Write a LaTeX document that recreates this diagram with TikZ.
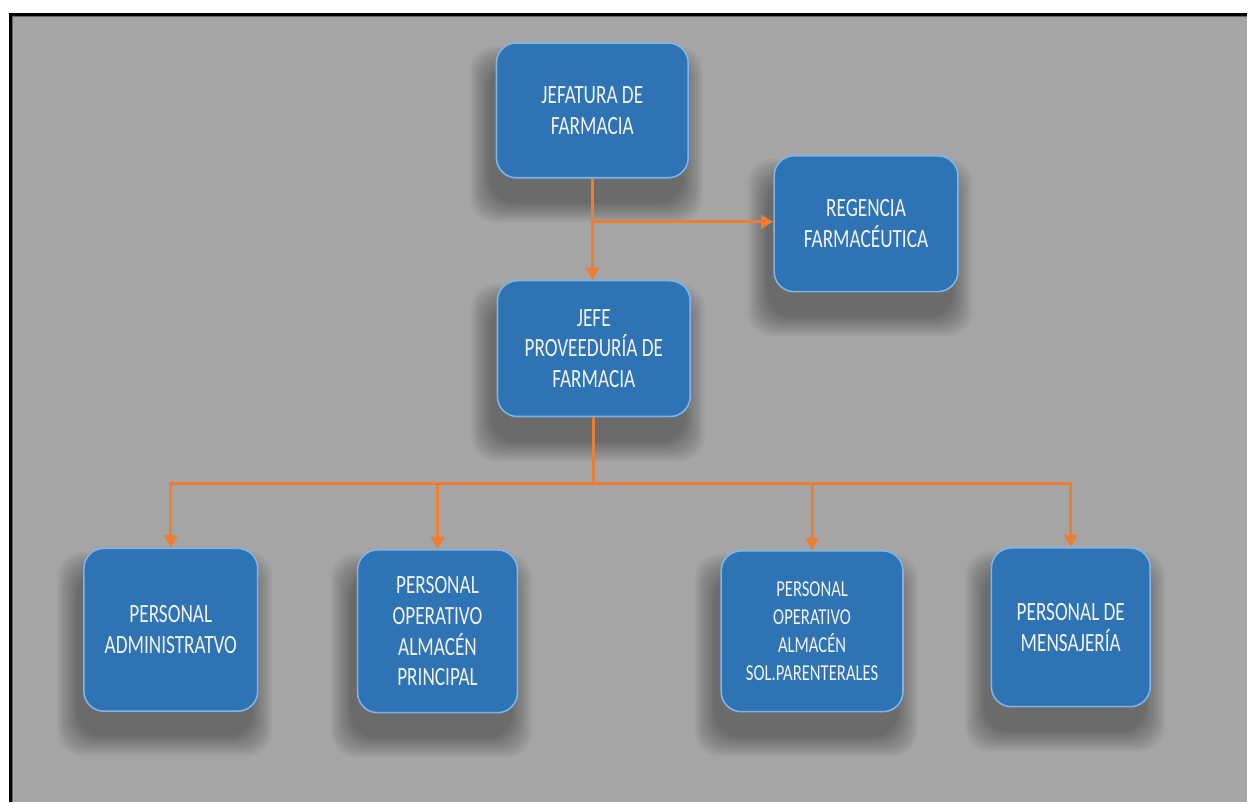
\documentclass[tikz,border=0pt]{standalone}
\usepackage{fontspec}
\newfontfamily\boxfont[FakeStretch=0.73]{Carlito}
\usetikzlibrary{arrows.meta,backgrounds,calc}
\definecolor{panelgray}{HTML}{A5A5A5}
\definecolor{boxblue}{HTML}{2E74B5}
\definecolor{boxedge}{HTML}{7FB4E6}
\definecolor{linkorange}{HTML}{ED7D31}
\definecolor{boxtext}{HTML}{F2F2F2}
\tikzset{
  orgbox/.style={
    rectangle, rounded corners=0.4cm, fill=boxblue, draw=boxedge, line width=0.9pt,
    text=boxtext, align=center, inner sep=2pt,
    font=\boxfont\fontsize{15pt}{17.5pt}\selectfont
  },
  smalltext/.style={font=\boxfont\fontsize{13pt}{16pt}\selectfont},
  shadowlayer/.style={fill=black, opacity=0.035, rounded corners=0.5cm},
  conn/.style={draw=linkorange, line width=1.7pt,
    -{Triangle[width=7.5pt,length=7pt]}},
  plainconn/.style={draw=linkorange, line width=1.7pt}
}
% soft shadow below a box: stacked translucent rounded rectangles
\newcommand{\softshadow}[1]{%
  \foreach \r in {0,2,...,20} {
    \path[shadowlayer] ($(#1.south west)+(-6-\r,24+\r)$) rectangle ($(#1.north east)+(-6+\r,24-\r)$);
  }}
\begin{document}
\begin{tikzpicture}[x=0.02cm, y=-0.02cm]
  % boxes
  \node[orgbox, minimum width=3.84cm, minimum height=2.70cm] (jef) at (593,110.5)
    {JEFATURA DE\\FARMACIA};
  \node[orgbox, minimum width=3.68cm, minimum height=2.72cm] (reg) at (867,224)
    {REGENCIA\\FARMACÉUTICA};
  \node[orgbox, minimum width=3.86cm, minimum height=2.72cm] (prov) at (594.5,349)
    {JEFE\\PROVEEDURÍA DE\\FARMACIA};
  \node[orgbox, minimum width=3.48cm, minimum height=3.26cm] (adm) at (171,630.5)
    {PERSONAL\\ADMINISTRATVO};
  \node[orgbox, minimum width=3.20cm, minimum height=3.26cm] (alm) at (438,632)
    {PERSONAL\\OPERATIVO\\ALMACÉN\\PRINCIPAL};
  \node[orgbox, smalltext, minimum width=3.64cm, minimum height=3.22cm] (par) at (813,632)
    {PERSONAL\\OPERATIVO\\ALMACÉN\\SOL.PARENTERALES};
  \node[orgbox, minimum width=3.18cm, minimum height=3.18cm] (men) at (1072,628)
    {PERSONAL DE\\MENSAJERÍA};

  % page, grey panel with its top and left rule, and the box shadows
  \begin{scope}[on background layer]
    \fill[white] (0,0) rectangle (1248,803);
    \fill[panelgray] (10,14) rectangle (1248,803);
    \draw[black, line width=1.6pt] (10.8,803) -- (10.8,14.8) -- (1248,14.8);
    \draw[black!60, line width=0.6pt] (12.5,803) -- (12.5,16.6) -- (1248,16.6);
    \foreach \b in {jef,reg,prov,adm,alm,par,men} { \softshadow{\b} }
  \end{scope}
  \useasboundingbox (0,0) rectangle (1248,803);

  % connectors
  \coordinate (bus) at (596,484);
  \draw[conn] (jef.south) -- (jef.south |- prov.north);
  \draw[conn] (jef.south |- 0,222) -- (reg.west |- 0,222);
  \draw[plainconn] (prov.south) -- (prov.south |- bus);
  \draw[conn] (prov.south |- bus) -| (adm.north);
  \draw[conn] (prov.south |- bus) -| (alm.north);
  \draw[conn] (prov.south |- bus) -| (par.north);
  \draw[conn] (prov.south |- bus) -| (men.north);
\end{tikzpicture}
\end{document}
